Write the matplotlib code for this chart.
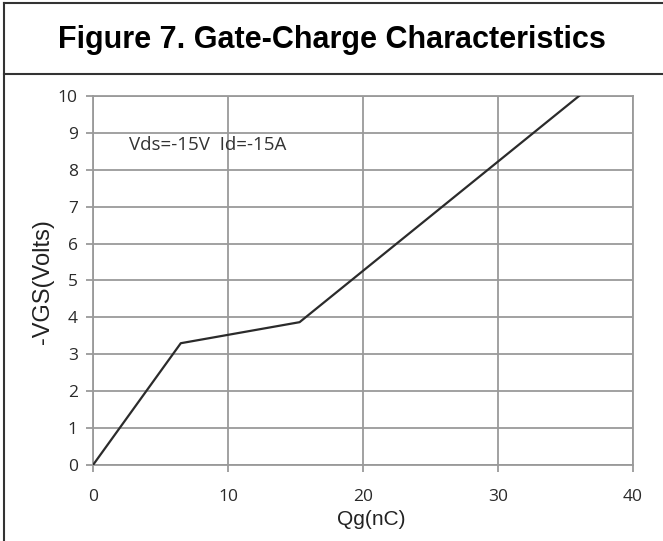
import matplotlib.pyplot as plt
from matplotlib.lines import Line2D

# data
qg = [0, 6.5, 15.3, 36.0]
vgs = [0, 3.3, 3.87, 10.0]
x_ticks = [0, 10, 20, 30, 40]
y_ticks = list(range(0, 11))

fig = plt.figure(figsize=(6.63, 5.41), dpi=100)
ax = fig.add_axes([0.1403, 0.1405, 0.8145, 0.6821])

grid_col = '#9a9a9a'
ax.plot(qg, vgs, color='#2b2b2b', linewidth=1.6, zorder=3)

ax.set_xlim(0, 40)
ax.set_ylim(0, 10)
ax.set_xticks(x_ticks)
ax.set_yticks(y_ticks)
ax.grid(True, color=grid_col, linewidth=1.3)
for s in ax.spines.values():
    s.set_color(grid_col)
    s.set_linewidth(1.3)
ax.tick_params(axis='both', colors=grid_col, length=5, width=1.3, labelcolor='#2a2a2a',
               labelsize=12.5)
ax.tick_params(axis='x', pad=12)
ax.tick_params(axis='y', pad=6)
for lab in ax.get_xticklabels() + ax.get_yticklabels():
    lab.set_family('Open Sans')

ax.set_xlabel('Qg(nC)', family='Liberation Sans', fontsize=15, color='#222222')
ax.set_ylabel('-VGS(Volts)', family='Liberation Sans', fontsize=17, color='#222222')
ax.xaxis.set_label_coords(0.515, -0.122)
ax.yaxis.set_label_coords(-0.072, 0.498)

ax.text(2.7, 8.67, 'Vds=-15V  Id=-15A', family='Open Sans', fontsize=13.5,
        va='center', ha='left', color='#333333')

fig.text(0.5, 0.926, 'Figure 7. Gate-Charge Characteristics', ha='center', va='center',
         family='Liberation Sans', fontweight='bold', fontsize=22)

# frame around the figure
frame = dict(color='#333333', linewidth=1.5, transform=fig.transFigure)
fig.add_artist(Line2D([0.006, 1.0], [0.994, 0.994], **frame))
fig.add_artist(Line2D([0.006, 0.006], [0.0, 0.994], **frame))
fig.add_artist(Line2D([0.006, 1.0], [0.863, 0.863], **frame))

fig.savefig('out.png', dpi=100)
